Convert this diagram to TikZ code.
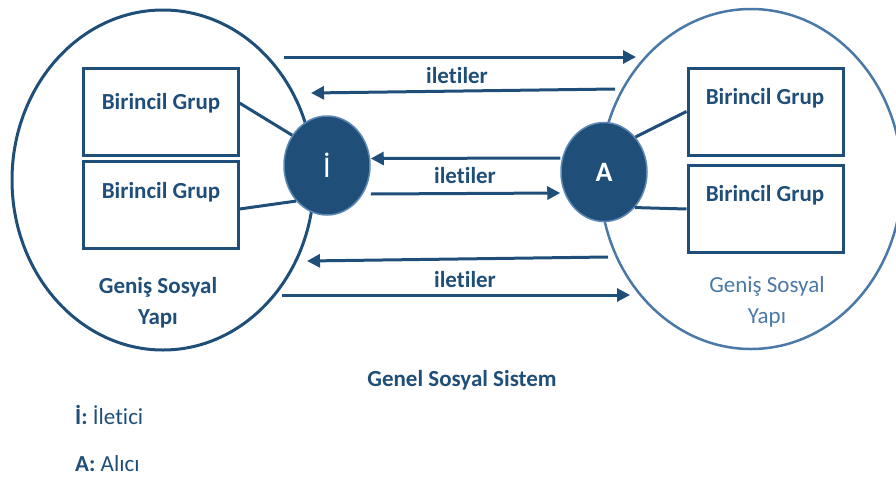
\documentclass[tikz,border=0pt]{standalone}
\usepackage{fontspec}
\setmainfont[Ligatures=NoCommon]{Carlito}
\usetikzlibrary{arrows.meta,shapes.geometric}
\definecolor{navy}{HTML}{1F4E79}
\definecolor{steel}{HTML}{4A78A8}
\definecolor{rim}{HTML}{5C88B5}
\tikzset{
  txt/.style={font=\fontsize{23}{27}\selectfont, text=navy, inner sep=0pt},
  txtb/.style={txt, font=\fontsize{23}{27}\selectfont\bfseries},
  grupbox/.style={draw=navy, line width=3pt, minimum width=155pt, minimum height=87pt, inner sep=0pt},
  world/.style={ellipse, line width=3pt, inner sep=0pt, minimum width=302pt, minimum height=340pt},
  actor/.style={ellipse, fill=navy, draw=rim, line width=1.5pt, inner sep=0pt,
                minimum width=86pt, minimum height=99pt, text=white},
  link/.style={draw=navy, line width=3pt},
  msg/.style={draw=navy, line width=3pt, -{Triangle[length=13pt,width=13pt]}}
}
\begin{document}
\begin{tikzpicture}[x=1pt,y=-1pt]
\useasboundingbox (0,0) rectangle (896,477);

% the two wider social structures
\node[world, draw=navy] (left) at (163,180) {};
\node[world, draw=steel, line width=2.5pt] (right) at (751,179) {};

% primary groups
\node[grupbox] (lb1) at (160.5,111.5) {};
\node[grupbox] (lb2) at (160.5,205) {};
\node[grupbox] (rb1) at (765.5,111.5) {};
\node[grupbox] (rb2) at (765.5,209) {};
\node[txtb] (lt1) at (161,103) {Birincil Grup};
\node[txtb] (lt2) at (161,192) {Birincil Grup};
\node[txtb] (rt1) at (765,98) {Birincil Grup};
\node[txtb] (rt2) at (765,195) {Birincil Grup};

% sender and receiver
\node[actor, font=\fontsize{30}{32}\selectfont] (I) at (327,165.5) {İ};
\node[actor, font=\fontsize{28}{30}\selectfont\bfseries] (A) at (604,172) {A};

\draw[link] ([yshift=8.5pt]lb1.east) -- (I.139);
\draw[link] ([yshift=-4pt]lb2.east) -- (I.229);
\draw[link] (A.48) -- (rb1.west);
\draw[link] (A.311) -- (rb2.west);

% message arrows
\coordinate (m1s) at (284,57);
\coordinate (m1e) at (636,57);
\coordinate (m2s) at (615,89);
\coordinate (m2e) at (311,93);
\coordinate (m5s) at (608,257);
\coordinate (m5e) at (307,261);
\coordinate (m6s) at (282,295);
\coordinate (m6e) at (630,295);
\draw[msg] (m1s) -- (m1e);
\draw[msg] (m2s) -- (m2e);
\draw[msg] ([yshift=14pt]A.west) -- ([yshift=7pt]I.east);
\draw[msg] ([yshift=-28.5pt]I.east) -- ([yshift=-21pt]A.west);
\draw[msg] (m5s) -- (m5e);
\draw[msg] (m6s) -- (m6e);

\node[txtb] (l1) at (457,76) {iletiler};
\node[txtb] (l2) at (465,176) {iletiler};
\node[txtb] (l3) at (465,280) {iletiler};

% structure captions
\node[txtb, align=center] (lcap) at (158,303) {Geniş Sosyal\\[4pt]Yapı};
\node[txt, align=center, text=steel] (rcap) at (767,302) {Geniş Sosyal\\[4pt]Yapı};

\node[txtb] (sys) at (462,380) {Genel Sosyal Sistem};

% legend
\node[txt, anchor=west] (k1) at (75,415) {\textbf{İ:} İletici};
\node[txt, anchor=west] (k2) at (75,464) {\textbf{A:} Alıcı};
\end{tikzpicture}
\end{document}
